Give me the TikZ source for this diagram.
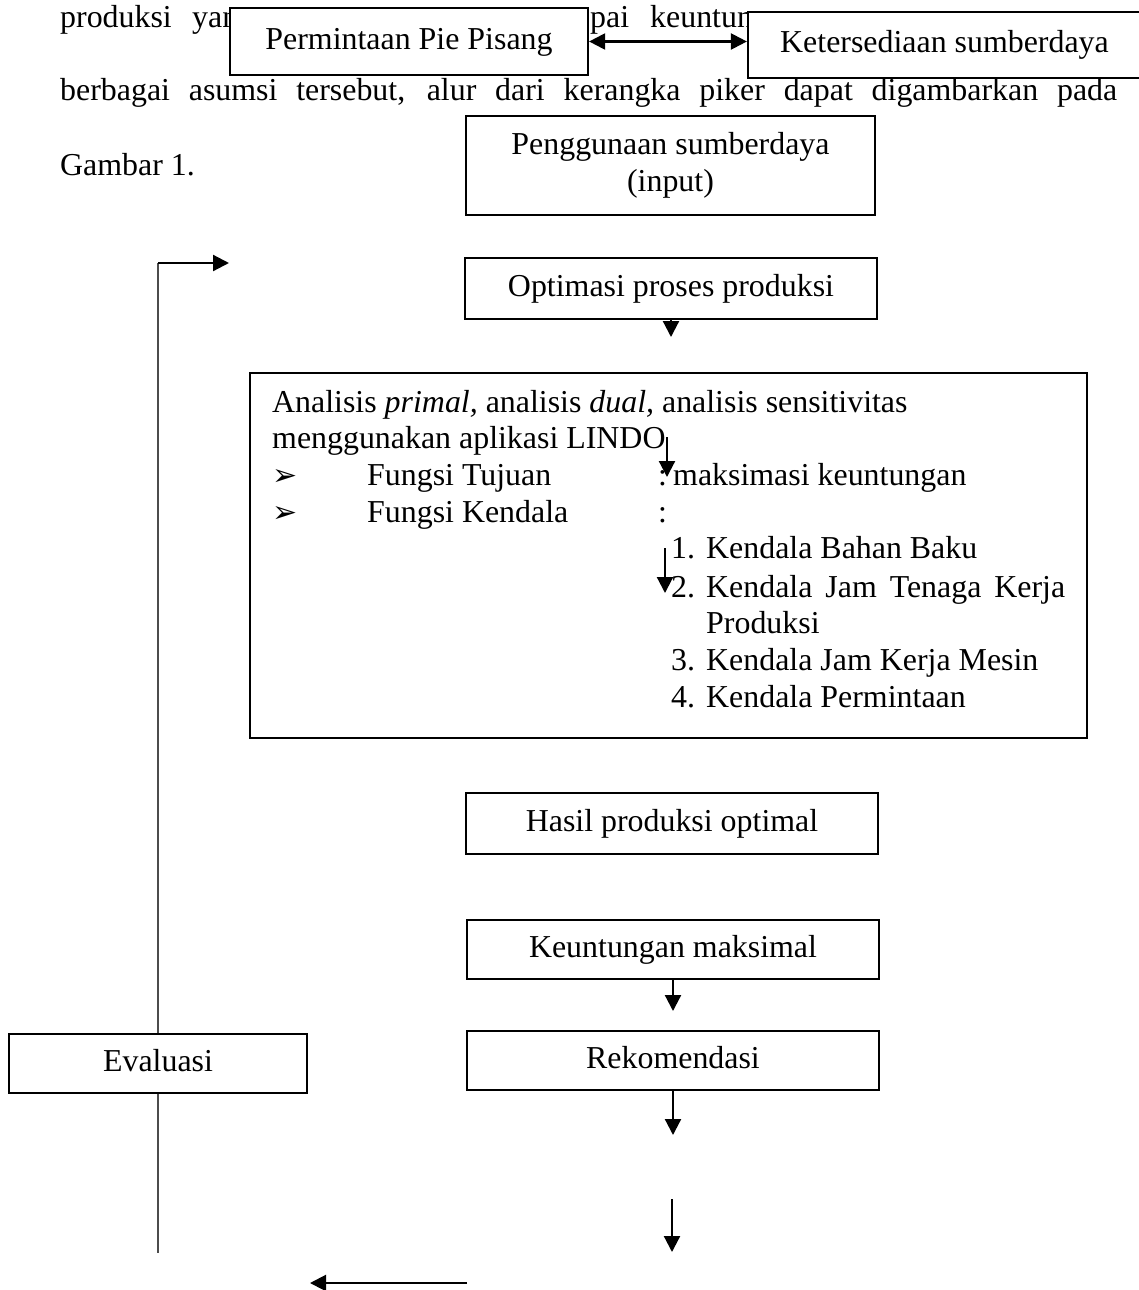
\documentclass[tikz,border=0pt]{standalone}
\usepackage{fontspec}
\setmainfont{Liberation Serif}
\newfontfamily\dingfont{DejaVu Sans}
\usepackage{tikz}
\usetikzlibrary{arrows.meta,positioning}
\tikzstyle{frame}=[draw,fill=white,line width=2.2pt,inner sep=0pt]
\tikzstyle{box}=[frame,text height=22pt,text depth=7pt]
\tikzstyle{teks}=[anchor=base west,inner sep=0pt]
\tikzstyle{arr}=[line width=2.2pt,-{Triangle[length=16pt,width=16pt]}]
\tikzstyle{fb}=[line width=1.6pt,black!70]
\newcommand{\panahkanan}{{\dingfont\fontsize{30}{30}\selectfont ➢}}

\begin{document}
\begin{tikzpicture}[x=1pt,y=-1pt,font=\fontsize{31.9}{36.8}\selectfont]
\useasboundingbox (0,0) rectangle (1139,1290);
% teks halaman di belakang
\node (T1) [teks] at (60,28) {produksi};
\node (T2) [teks] at (192,28) {yan};
\node (T3) [teks] at (590,28) {pai};
\node (T4) [teks] at (650,28) {keuntun};
\node (T5) [teks] at (60,100) {\makebox[1057pt][s]{berbagai asumsi tersebut, alur dari kerangka piker dapat digambarkan pada}};
\node (T6) [teks] at (60,175) {Gambar 1.};
% kotak
\node (PP) [box,minimum width=358pt,minimum height=67pt] at (409,41.5) {Permintaan Pie Pisang};
\node (KS) [box,minimum width=393pt,minimum height=66pt] at (944.5,45) {Ketersediaan sumberdaya};
\node (PS) [frame,minimum width=409pt,minimum height=99pt,align=center] at (670.5,165.5) {Penggunaan sumberdaya\\(input)};
\node (OP) [box,minimum width=412pt,minimum height=61pt] at (671,288.5) {Optimasi proses produksi};
\node (AN) [frame,minimum width=837pt,minimum height=365pt] at (668.5,555.5) {};
\node (HP) [box,minimum width=412pt,minimum height=61pt] at (672,823.5) {Hasil produksi optimal};
\node (KM) [box,minimum width=412pt,minimum height=59pt] at (673,949.5) {Keuntungan maksimal};
\node (RK) [box,minimum width=412pt,minimum height=59pt] at (673,1060.5) {Rekomendasi};
\node (EV) [box,minimum width=298pt,minimum height=59pt] at (158,1063.5) {Evaluasi};
% isi kotak analisis
\node (A1) [teks] at (272,412) {Analisis \textit{primal,} analisis \textit{dual,} analisis sensitivitas};
\node (A2) [teks] at (272,448) {menggunakan aplikasi LINDO};
\node (B1) [teks] at (272,485) {\panahkanan};
\node (F1) [teks] at (367,485) {Fungsi Tujuan};
\node (C1) [teks] at (658,485) {:};
\node (M1) [teks] at (673,485) {maksimasi keuntungan};
\node (B2) [teks] at (272,522) {\panahkanan};
\node (F2) [teks] at (367,522) {Fungsi Kendala};
\node (C2) [teks] at (658,522) {:};
\node (N1) [teks] at (671,558) {1.};
\node (K1) [teks] at (706,558) {Kendala Bahan Baku};
\node (N2) [teks] at (671,597) {2.};
\node (K2) [teks] at (706,597) {\makebox[359pt][s]{Kendala Jam Tenaga Kerja}};
\node (K2b) [teks] at (706,633) {Produksi};
\node (N3) [teks] at (671,670) {3.};
\node (K3) [teks] at (706,670) {Kendala Jam Kerja Mesin};
\node (N4) [teks] at (671,707) {4.};
\node (K4) [teks] at (706,707) {Kendala Permintaan};
% ujung bebas
\coordinate (o1) at (671,337);
\coordinate (a1) at (667,437);
\coordinate (a2) at (667,477);
\coordinate (a3) at (665,548);
\coordinate (a4) at (665,593);
\coordinate (k1) at (673,1011);
\coordinate (r1) at (673,1135);
\coordinate (r2) at (672,1199);
\coordinate (r3) at (672,1252);
\coordinate (b1) at (467,1283);
\coordinate (b2) at (310,1283);
\coordinate (up) at (158,263);
\coordinate (upr) at (229,263);
\coordinate (dn) at (158,1253);
% panah
\draw[arr,{Triangle[length=16pt,width=16pt]}-{Triangle[length=16pt,width=16pt]}] (PP.east) -- (PP.east -| KS.west);
\draw[arr] (OP.south) -- (o1);
\draw[arr] (a1) -- (a2);
\draw[arr] (a3) -- (a4);
\draw[arr] (KM.south) -- (k1);
\draw[arr] (RK.south) -- (r1);
\draw[arr] (r2) -- (r3);
\draw[arr] (b1) -- (b2);
\draw[fb] (EV.north) -- (up);
\draw[fb] (EV.south) -- (dn);
\draw[arr] (up) -- (upr);
\end{tikzpicture}
\end{document}
